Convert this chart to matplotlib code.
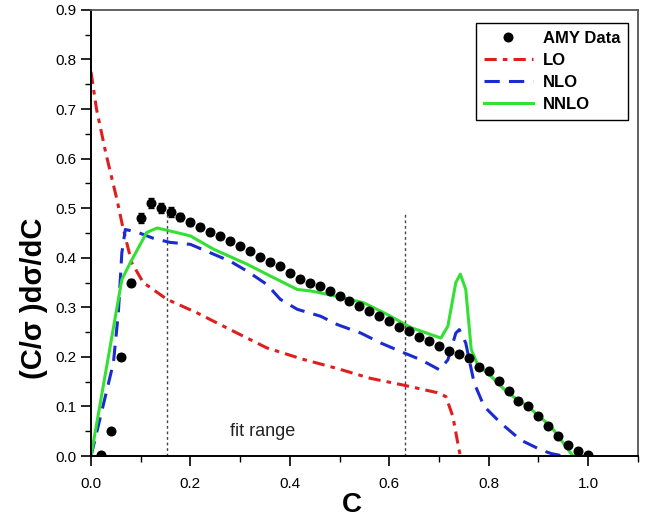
import numpy as np
import matplotlib
matplotlib.use("Agg")
import matplotlib.pyplot as plt
from matplotlib.ticker import MultipleLocator
from matplotlib.lines import Line2D

plt.rcParams['font.family'] = ['Liberation Sans', 'DejaVu Sans']

# AMY data points (C, value, error)
amy_x = [0.02, 0.04, 0.06, 0.08, 0.10, 0.12, 0.14, 0.16, 0.18, 0.20,
         0.22, 0.24, 0.26, 0.28, 0.30, 0.32, 0.34, 0.36, 0.38, 0.40,
         0.42, 0.44, 0.46, 0.48, 0.50, 0.52, 0.54, 0.56, 0.58, 0.60,
         0.62, 0.64, 0.66, 0.68, 0.70, 0.72, 0.74, 0.76, 0.78, 0.80,
         0.82, 0.84, 0.86, 0.88, 0.90, 0.92, 0.94, 0.96, 0.98, 1.00]
amy_y = [0.003, 0.05, 0.20, 0.35, 0.48, 0.51, 0.50, 0.492, 0.482, 0.472,
         0.462, 0.452, 0.443, 0.433, 0.423, 0.413, 0.402, 0.392, 0.383, 0.370,
         0.358, 0.350, 0.342, 0.332, 0.322, 0.312, 0.302, 0.292, 0.282, 0.272,
         0.261, 0.253, 0.241, 0.233, 0.222, 0.212, 0.206, 0.198, 0.180, 0.171,
         0.152, 0.132, 0.112, 0.101, 0.081, 0.061, 0.041, 0.022, 0.010, 0.003]
amy_err = [0.003, 0.004, 0.006, 0.008, 0.010, 0.010, 0.010, 0.010, 0.008, 0.007,
           0.006, 0.006, 0.005, 0.005, 0.005, 0.005, 0.005, 0.005, 0.005, 0.005,
           0.005, 0.005, 0.005, 0.005, 0.005, 0.005, 0.005, 0.005, 0.005, 0.005,
           0.005, 0.005, 0.005, 0.005, 0.005, 0.005, 0.005, 0.005, 0.005, 0.005,
           0.005, 0.005, 0.005, 0.004, 0.004, 0.004, 0.003, 0.003, 0.003, 0.002]

# LO
lo_x = [0.0, 0.011, 0.03, 0.052, 0.065, 0.082, 0.105, 0.153, 0.213, 0.280,
        0.354, 0.427, 0.494, 0.561, 0.629, 0.696, 0.714, 0.728, 0.738, 0.743]
lo_y = [0.775, 0.70, 0.61, 0.518, 0.457, 0.390, 0.350, 0.316, 0.289, 0.255,
        0.218, 0.195, 0.177, 0.157, 0.143, 0.128, 0.12, 0.08, 0.026, 0.0]

# NLO
nlo_x = [0.0, 0.045, 0.055, 0.062, 0.069, 0.092, 0.126, 0.159, 0.200, 0.247,
         0.280, 0.314, 0.354, 0.381, 0.415, 0.462, 0.496, 0.543, 0.583, 0.630,
         0.664, 0.701, 0.718, 0.734, 0.741, 0.754, 0.761, 0.771, 0.791, 0.825,
         0.865, 0.906, 0.926, 0.946, 0.962]
nlo_y = [0.0, 0.188, 0.289, 0.410, 0.457, 0.452, 0.439, 0.431, 0.427, 0.407,
         0.393, 0.373, 0.346, 0.316, 0.296, 0.282, 0.265, 0.248, 0.228, 0.208,
         0.194, 0.174, 0.194, 0.248, 0.255, 0.228, 0.194, 0.147, 0.100, 0.066,
         0.032, 0.012, 0.005, 0.001, 0.0]

# NNLO
nnlo_x = [0.0, 0.062, 0.079, 0.112, 0.133, 0.159, 0.200, 0.247, 0.314, 0.361,
          0.415, 0.442, 0.496, 0.549, 0.597, 0.644, 0.704, 0.718, 0.734, 0.743,
          0.754, 0.765, 0.778, 0.805, 0.839, 0.879, 0.926, 0.946, 0.963, 0.970, 1.0]
nnlo_y = [0.0, 0.356, 0.390, 0.451, 0.460, 0.454, 0.444, 0.417, 0.387, 0.363,
          0.336, 0.333, 0.322, 0.309, 0.285, 0.259, 0.238, 0.262, 0.350, 0.367,
          0.336, 0.215, 0.184, 0.161, 0.127, 0.100, 0.059, 0.032, 0.009, 0.0, 0.0]

fit_lo, fit_hi, fit_top = 0.153, 0.631, 0.49

fig = plt.figure(figsize=(6.53, 5.2), dpi=100)
ax = fig.add_axes([0.1394, 0.123, 0.8372, 0.858])

lo_line, = ax.plot(lo_x, lo_y, color='#e01e1e', lw=2.2, dashes=(4, 2, 1.5, 2))
nlo_line, = ax.plot(nlo_x, nlo_y, color='#1a2bd0', lw=2.2, dashes=(5, 3))
nnlo_line, = ax.plot(nnlo_x, nnlo_y, color='#33e033', lw=2.2)
ax.errorbar(amy_x, amy_y, yerr=amy_err, fmt='o', color='black', ms=6.2,
            elinewidth=0.8, capsize=2, zorder=5)

for xv in (fit_lo, fit_hi):
    ax.plot([xv, xv], [0, fit_top], color='#444444', lw=1.0, ls=(0, (2, 2)))
ax.text(0.28, 0.05, 'fit range', fontsize=13, color='#222222', va='center')

ax.set_xlim(0, 1.1)
ax.set_ylim(0, 0.9)
ax.xaxis.set_minor_locator(MultipleLocator(0.1))
ax.yaxis.set_major_locator(MultipleLocator(0.1))
ax.yaxis.set_minor_locator(MultipleLocator(0.05))
ax.set_xticks([0, 0.2, 0.4, 0.6, 0.8, 1.0])
ax.set_xticklabels(['0.0', '0.2', '0.4', '0.6', '0.8', '1.0'])
ax.set_yticks(np.arange(10) / 10)
ax.set_yticklabels([f'{v:.1f}' for v in np.arange(10) / 10])
ax.set_ylim(0, 0.9)
ax.tick_params(which='major', direction='out', length=7, width=1.2, labelsize=11,
               top=False, right=False)
ax.tick_params(which='minor', direction='out', length=4, width=1.0, top=False, right=False)
ax.tick_params(axis='x', pad=8)

for s in ('left', 'bottom'):
    ax.spines[s].set_linewidth(1.4)
    ax.spines[s].set_color('black')
for s in ('top', 'right'):
    ax.spines[s].set_linewidth(1.3)
    ax.spines[s].set_color('#555555')

fig.text(352 / 653, 1 - 505 / 520, 'C', fontsize=20, fontweight='bold',
         ha='center', va='center')
fig.text(34 / 653, 1 - 298 / 520, '(C/σ )dσ/dC', fontsize=21, fontweight='bold',
         ha='center', va='center', rotation=90)

amy_handle = Line2D([], [], ls='none', marker='o', color='black', ms=6.2)
leg = ax.legend([amy_handle, lo_line, nlo_line, nnlo_line],
                ['AMY Data', 'LO', 'NLO', 'NNLO'], loc='upper left',
                bbox_to_anchor=(0.704, 0.9715), prop={'weight': 'bold', 'size': 12},
                frameon=True, fancybox=False, edgecolor='black', framealpha=1,
                handlelength=2.9, handletextpad=0.6, labelspacing=0.42,
                borderpad=0.5, borderaxespad=0)
leg.get_frame().set_linewidth(1.0)

fig.savefig('out.png', dpi=100)
